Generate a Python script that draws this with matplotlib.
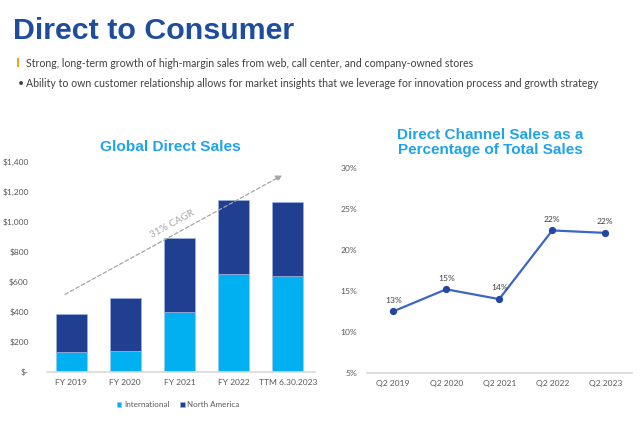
import matplotlib
matplotlib.use("Agg")
import matplotlib.pyplot as plt
from matplotlib.patches import Rectangle
import numpy as np

# Datos
years = ['FY 2019', 'FY 2020', 'FY 2021', 'FY 2022', 'TTM 6.30.2023']
international = [129, 138, 400, 652, 641]
north_america = [256, 352, 495, 494, 494]

quarters = ['Q2 2019', 'Q2 2020', 'Q2 2021', 'Q2 2022', 'Q2 2023']
direct_pct = [12.5, 15.2, 14.0, 22.4, 22.1]
pct_labels = ['13%', '15%', '14%', '22%', '22%']

bar_ticks = [0, 200, 400, 600, 800, 1000, 1200, 1400]
bar_tick_labels = ['$-', '$200', '$400', '$600', '$800', '$1,000', '$1,200', '$1,400']
pct_ticks = [5, 10, 15, 20, 25, 30]

# Colores
c_intl = '#00B0F0'
c_na = '#203F90'
c_title = '#1FA3EA'
c_head = '#1F4D9E'
c_tick = '#595959'
body_font = 'Lato'
head_font = 'Liberation Sans'
tick_size = 6.1

fig = plt.figure(figsize=(6.4, 4.23), dpi=100)
fig.patch.set_facecolor('white')

# Encabezado
fig.text(13 / 640, 1 - 39 / 423, 'Direct to Consumer', fontsize=21.9, fontweight='bold',
         color=c_head, family=head_font, va='baseline')
fig.patches.append(Rectangle((17 / 640, 1 - 67 / 423), 2.2 / 640, 9 / 423,
                             transform=fig.transFigure, color='#F7A21B', lw=0))
fig.text(26 / 640, 1 - 66.5 / 423,
         'Strong, long-term growth of high-margin sales from web, call center, and company-owned stores',
         fontsize=7.6, color='#404040', family=body_font, va='baseline')
fig.text(17.5 / 640, 1 - 87.3 / 423, '\u2022', fontsize=7.6, color='#404040', va='baseline',
         family=body_font)
fig.text(26 / 640, 1 - 87.3 / 423,
         'Ability to own customer relationship allows for market insights that we leverage for innovation process and growth strategy',
         fontsize=7.6, color='#404040', family=body_font, va='baseline')

# Grafico de barras
ax1 = fig.add_axes([46.7 / 640, 51.3 / 423, (315 - 46.7) / 640, 209.7 / 423])
x = np.arange(len(years))
ax1.bar(x, international, width=0.57, color=c_intl, edgecolor='#9FC7EE', linewidth=0.5,
        label='International')
ax1.bar(x, north_america, width=0.57, bottom=international, color=c_na, edgecolor='#9DB3E0',
        linewidth=0.5, label='North America')
ax1.set_xlim(-0.45, 4.5)
ax1.set_ylim(0, 1400)
ax1.set_yticks(bar_ticks)
ax1.set_yticklabels(bar_tick_labels)
ax1.set_xticks(x)
ax1.set_xticklabels(years)
for s in ['top', 'right', 'left']:
    ax1.spines[s].set_visible(False)
ax1.spines['bottom'].set_color('#D9D9D9')
ax1.spines['bottom'].set_linewidth(1.2)
ax1.tick_params(axis='y', length=0, pad=13, labelsize=tick_size, labelcolor=c_tick)
ax1.tick_params(axis='x', length=0, pad=5, labelsize=tick_size, labelcolor=c_tick)
for lbl in ax1.get_xticklabels() + ax1.get_yticklabels():
    lbl.set_family(body_font)
fig.text(170 / 640, 1 - 150.7 / 423, 'Global Direct Sales', fontsize=11.1, fontweight='bold',
         color=c_title, family=head_font, ha='center', va='baseline')

# flecha CAGR
ax1.annotate('', xy=(3.94, 1320), xytext=(-0.16, 507),
             arrowprops=dict(arrowstyle='-|>', color='#A6A6A6', lw=0.9, linestyle=(0, (3, 2)),
                             mutation_scale=9))
ax1.text(1.86, 985, '31% CAGR', rotation=28.6, rotation_mode='anchor', ha='center', va='center',
         fontsize=7.2, color='#A6A6A6', family=body_font)

leg = ax1.legend(loc='upper center', bbox_to_anchor=(0.489, -0.105), ncol=2, frameon=False,
                 handlelength=0.6, handleheight=0.6, handletextpad=0.3,
                 columnspacing=1.3, prop={'family': body_font, 'size': 5.8})
for t in leg.get_texts():
    t.set_color(c_tick)

# Grafico de linea
ax2 = fig.add_axes([366.7 / 640, 50.3 / 423, (631.7 - 366.7) / 640, 204.4 / 423])
x2 = np.arange(len(quarters))
ax2.plot(x2, direct_pct, color='#3C66C4', lw=1.6, marker='o', markersize=4.2,
         markerfacecolor='#2347A0', markeredgecolor='#2347A0')
for xi, yi, lab in zip(x2, direct_pct, pct_labels):
    ax2.annotate(lab, (xi, yi), xytext=(0, 5.5), textcoords='offset points', ha='center',
                 va='bottom', fontsize=tick_size, color='#404040', family=body_font)
ax2.set_xlim(-0.5, 4.5)
ax2.set_ylim(5, 30)
ax2.set_yticks(pct_ticks)
ax2.set_yticklabels([f'{t}%' for t in pct_ticks])
ax2.set_xticks(x2)
ax2.set_xticklabels(quarters)
for s in ['top', 'right', 'left']:
    ax2.spines[s].set_visible(False)
ax2.spines['bottom'].set_color('#D9D9D9')
ax2.spines['bottom'].set_linewidth(1.2)
ax2.tick_params(axis='y', length=0, pad=7, labelsize=tick_size, labelcolor=c_tick)
ax2.tick_params(axis='x', length=0, pad=5, labelsize=tick_size, labelcolor=c_tick)
for lbl in ax2.get_xticklabels() + ax2.get_yticklabels():
    lbl.set_family(body_font)
fig.text(490.5 / 640, 1 - 154.3 / 423, 'Direct Channel Sales as a\nPercentage of Total Sales',
         ha='center', va='baseline', fontsize=11, fontweight='bold', color=c_title,
         family=head_font, linespacing=1.15)

fig.savefig('out.png', dpi=100)
